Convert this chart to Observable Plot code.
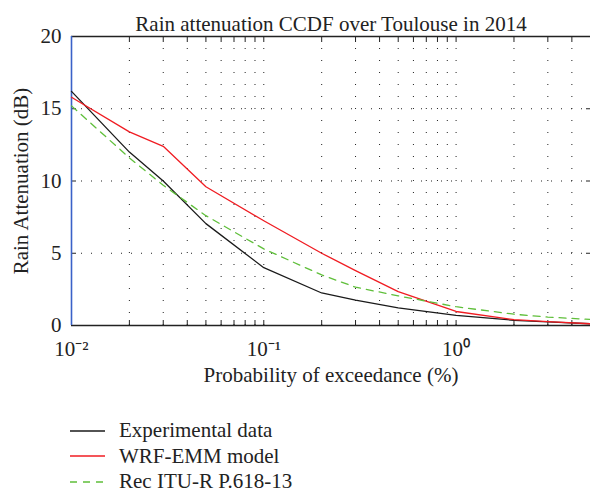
<!DOCTYPE html>
<html>
<head>
<meta charset="utf-8">
<script src="https://cdn.jsdelivr.net/npm/d3@7"></script>
<script src="https://cdn.jsdelivr.net/npm/@observablehq/plot@0.6"></script>
<style>
  body { margin: 0; background: #fff; font-family: "Liberation Serif", "Times New Roman", serif; }
  #legend { margin-top: 8px; margin-left: 70px; font-size: 21px; color: #222; }
  .row { display: flex; align-items: center; height: 25.5px; }
  .row svg { margin-right: 14px; }
</style>
</head>
<body>
<div id="chart"></div>
<div id="legend"></div>
<script>
const title = "Rain attenuation CCDF over Toulouse in 2014";
const xLabel = "Probability of exceedance (%)";
const yLabel = "Rain Attenuation (dB)";

const probs        = [0.01, 0.02, 0.03, 0.05, 0.1, 0.2, 0.3, 0.5, 1, 2, 3, 5];
const experimental = [16.2, 12.0, 10.0, 7.05, 4.0, 2.25, 1.75, 1.22, 0.7, 0.36, 0.25, 0.12];
const wrfEmm       = [15.8, 13.4, 12.4, 9.6, 7.25, 5.0, 3.8, 2.35, 0.97, 0.4, 0.27, 0.12];
const ituR         = [15.2, 11.6, 9.7, 7.6, 5.3, 3.5, 2.65, 2.05, 1.3, 0.78, 0.58, 0.42];

const seriesNames  = ["Experimental data", "WRF-EMM model", "Rec ITU-R P.618-13"];
const seriesColors = ["#1a1a1a", "#f01c22", "#5fbf3a"];
const seriesDash   = [null, null, "7,6"];

const xMajor = [0.01, 0.1, 1];
const xMajorLabels = ["10⁻²", "10⁻¹", "10⁰"];
const xMinor = [0.02,0.03,0.04,0.05,0.06,0.07,0.08,0.09,0.1,0.2,0.3,0.4,0.5,0.6,0.7,0.8,0.9,1,2,3,4];
const yTicks = [0, 5, 10, 15, 20];
const yGrid = [5, 10, 15];

const seriesValues = [experimental, wrfEmm, ituR];
const table = [];
seriesValues.forEach((vals, s) => probs.forEach((p, i) => table.push({p, v: vals[i], s: seriesNames[s]})));

const chart = Plot.plot({
  width: 590,
  height: 410,
  marginLeft: 71,
  marginRight: 0,
  marginTop: 36,
  marginBottom: 85,
  style: {fontFamily: '"Liberation Serif", "Times New Roman", serif', fontSize: "21px", background: "#fff", color: "#222", overflow: "visible"},
  x: {type: "log", domain: [0.01, 5]},
  y: {domain: [0, 20]},
  marks: [
    Plot.ruleX(xMinor, {stroke: "#222", strokeDasharray: "1,11", strokeWidth: 1}),
    Plot.ruleY(yGrid, {stroke: "#222", strokeDasharray: "1,9", strokeWidth: 1}),
    Plot.axisX(xMinor, {anchor: "bottom", tickSize: -5, tickFormat: () => "", label: null, stroke: "#222"}),
    Plot.axisX(xMinor, {anchor: "top", tickSize: -5, tickFormat: () => "", label: null, stroke: "#222"}),
    Plot.axisX(xMajor, {anchor: "bottom", tickSize: 0, tickPadding: 16, tickFormat: d => xMajorLabels[xMajor.indexOf(d)], label: null, fontSize: 21}),
    Plot.axisY(yTicks, {anchor: "left", tickSize: -5, tickPadding: 15, label: null, fontSize: 21, stroke: "#222"}),
    Plot.axisY(yGrid, {anchor: "right", tickSize: -5, tickFormat: () => "", label: null, stroke: "#222"}),
    Plot.ruleY([0, 20], {stroke: "#222", strokeWidth: 1.3}),
    Plot.ruleX([0.01], {stroke: "#3a62c8", strokeWidth: 1.6}),
    Plot.line(table, {x: "p", y: "v", z: "s",
      stroke: d => seriesColors[seriesNames.indexOf(d.s)],
      strokeWidth: 1.3}),
    Plot.text([title], {text: d => d, frameAnchor: "top", textAnchor: "middle", dy: -20, fontSize: 21, fill: "#222"}),
    Plot.text([xLabel], {text: d => d, frameAnchor: "bottom", textAnchor: "middle", dy: 56, fontSize: 21, fill: "#222"}),
    Plot.text([yLabel], {text: d => d, frameAnchor: "left", textAnchor: "middle", dx: -50, rotate: -90, fontSize: 21, fill: "#222"})
  ]
});
document.getElementById("chart").appendChild(chart);
chart.querySelectorAll("path").forEach(p => {
  if (p.getAttribute("stroke") === seriesColors[2]) p.setAttribute("stroke-dasharray", seriesDash[2]);
});

const legend = document.getElementById("legend");
seriesNames.forEach((name, i) => {
  const row = document.createElement("div");
  row.className = "row";
  row.innerHTML = `<svg width="35" height="6"><line x1="0" y1="3" x2="35" y2="3" stroke="${seriesColors[i]}" stroke-width="1.3" ${seriesDash[i] ? `stroke-dasharray="${seriesDash[i]}"` : ""}/></svg><span>${name}</span>`;
  legend.appendChild(row);
});
</script>
</body>
</html>
